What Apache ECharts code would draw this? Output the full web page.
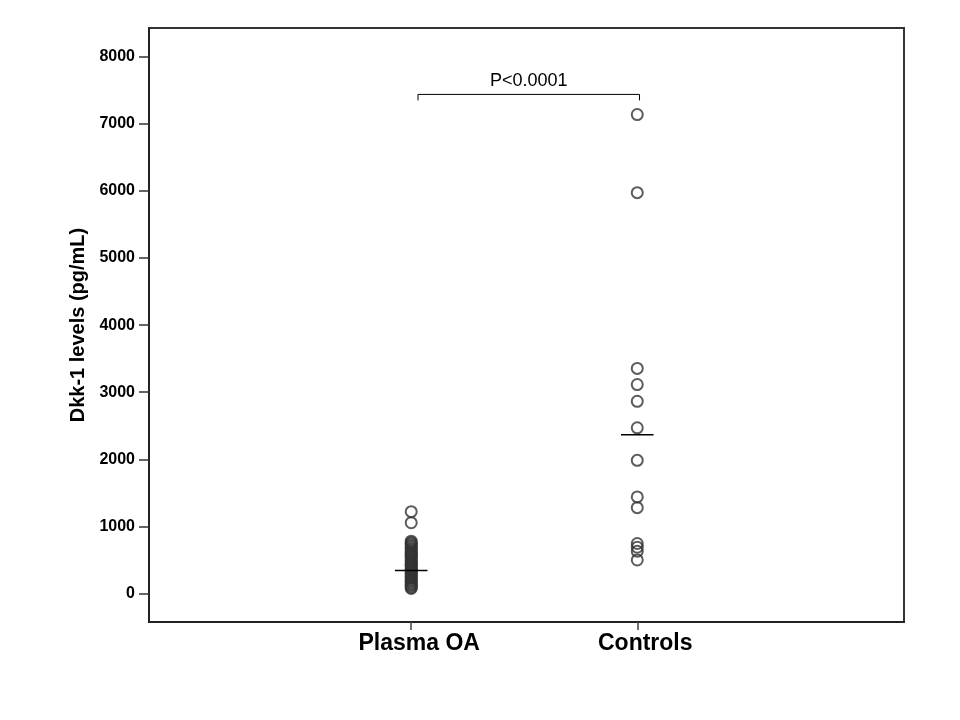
<!DOCTYPE html>
<html>
<head>
<meta charset="utf-8">
<script src="https://cdn.jsdelivr.net/npm/echarts@6/dist/echarts.min.js"></script>
<style>
  html, body { margin: 0; padding: 0; background: #fff; }
  #chart { width: 960px; height: 720px; }
</style>
</head>
<body>
<div id="chart"></div>
<script>
const groups = ['Plasma OA', 'Controls'];
const plasmaOA = [1220, 1055, 780, 760, 740, 720, 700, 680, 660, 640, 620, 600, 585, 570,
  555, 540, 520, 500, 480, 460, 445, 430, 410, 390, 370, 355, 345, 330, 310, 290, 270, 250, 230,
  210, 190, 170, 150, 130, 110, 90, 75];
const controls = [7140, 5975, 3355, 3115, 2865, 2470, 1985, 1440, 1280, 745, 690, 630, 500];
const medians = [343, 2365];
const yTicks = [0, 1000, 2000, 3000, 4000, 5000, 6000, 7000, 8000];
const pLabel = 'P<0.0001';
const bracketY = 7440;
const bracketTickY = 7350;

const fontFamily = '"Liberation Sans", Arial, sans-serif';
const chart = echarts.init(document.getElementById('chart'));

const circleStyle = { color: 'transparent', borderColor: '#333', borderWidth: 2 };
const medianHalf = 0.072;

chart.setOption({
  animation: false,
  backgroundColor: '#fff',
  grid: {
    left: 149, top: 28, right: 56, bottom: 98,
    show: true, borderColor: '#333', borderWidth: 2, backgroundColor: 'transparent'
  },
  xAxis: {
    type: 'value',
    min: -0.16,
    max: 3.18,
    splitLine: { show: false },
    axisLine: { onZero: false, lineStyle: { color: '#222', width: 2 } },
    axisTick: { customValues: [1, 2], length: 8, lineStyle: { color: '#444', width: 1.5 } },
    axisLabel: {
      customValues: [1, 2],
      formatter: (v) => groups[Math.round(v) - 1] || '',
      color: '#000',
      fontFamily: fontFamily,
      fontWeight: 'bold',
      fontSize: 23,
      margin: 10,
      padding: [0, 0, 0, 16]
    }
  },
  yAxis: {
    type: 'value',
    min: -425,
    max: 8430,
    name: 'Dkk-1 levels (pg/mL)',
    nameLocation: 'middle',
    nameGap: 57,
    nameTextStyle: { color: '#000', fontFamily: fontFamily, fontWeight: 'bold', fontSize: 20 },
    splitLine: { show: false },
    axisLine: { onZero: false, lineStyle: { color: '#222', width: 2 } },
    axisTick: { customValues: yTicks, length: 10, lineStyle: { color: '#333', width: 1.5 } },
    axisLabel: {
      customValues: yTicks,
      formatter: (v) => String(v),
      color: '#000',
      fontFamily: fontFamily,
      fontWeight: 'bold',
      fontSize: 16,
      margin: 14
    }
  },
  series: [
    {
      type: 'scatter',
      data: plasmaOA.map((v) => [1, v]),
      symbol: 'circle',
      symbolSize: 11,
      itemStyle: circleStyle
    },
    {
      type: 'scatter',
      data: controls.map((v) => [2, v]),
      symbol: 'circle',
      symbolSize: 11,
      itemStyle: circleStyle
    },
    ...medians.map((m, i) => ({
      type: 'line',
      data: [[i + 1 - medianHalf, m], [i + 1 + medianHalf, m]],
      showSymbol: false,
      lineStyle: { color: '#000', width: 1.5 }
    })),
    {
      type: 'line',
      data: [[1.03, bracketTickY], [1.03, bracketY], [2.01, bracketY], [2.01, bracketTickY]],
      showSymbol: false,
      lineStyle: { color: '#000', width: 1 },
      markPoint: {
        symbol: 'rect',
        symbolSize: 1,
        itemStyle: { color: 'transparent' },
        data: [{ coord: [1.52, bracketY] }],
        label: {
          show: true,
          formatter: pLabel,
          position: 'top',
          distance: 4,
          color: '#000',
          fontFamily: fontFamily,
          fontSize: 18
        }
      }
    }
  ]
});
</script>
</body>
</html>
